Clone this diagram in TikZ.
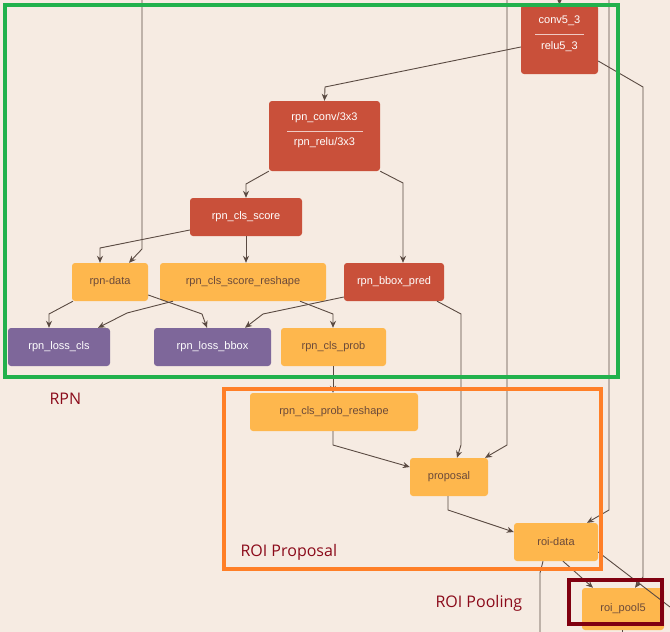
\documentclass[tikz,border=0pt]{standalone}
\usepackage{fontspec}
\setmainfont{Liberation Sans}
\newfontfamily\lblfont{Open Sans}
\usetikzlibrary{arrows.meta}
\definecolor{bg}{HTML}{F6EBE2}
\definecolor{cred}{HTML}{C9503A}
\definecolor{cyel}{HTML}{FEB74D}
\definecolor{cpur}{HTML}{7E679A}
\definecolor{ctxt}{HTML}{6B4A3A}
\definecolor{cline}{HTML}{5A4A42}
\definecolor{lblred}{HTML}{8B0A1A}
\begin{document}
\begin{tikzpicture}[x=1pt,y=-1pt,
  box/.style={rounded corners=3pt,minimum height=38pt,inner sep=0pt,font=\fontsize{11}{13}\selectfont},
  red/.style={box,fill=cred,text=white},
  yel/.style={box,fill=cyel,text=ctxt},
  pur/.style={box,fill=cpur,text=white},
  ar/.style={draw=cline,line width=0.9pt,-{Stealth[length=7pt,width=6pt]}},
  ln/.style={draw=cline,line width=0.9pt},
  lbl/.style={text=lblred,font=\lblfont\fontsize{16}{18}\selectfont,anchor=west}]
\fill[bg] (0,0) rectangle (670,632);
\useasboundingbox (0,0) rectangle (670,632);
% nodes
\node[red,minimum width=77pt,minimum height=69pt] (conv) at (559.5,39.5) {};
\node[text=white,font=\fontsize{11}{13}\selectfont] (convt) at (559.5,21) {conv5\_3};
\node[text=white,font=\fontsize{11}{13}\selectfont] (convb) at (559.5,47) {relu5\_3};
\draw[white!70!cred,line width=0.8pt] (535,34) -- (584,34);
\node[red,minimum width=111pt,minimum height=70pt] (rpnconv) at (324.5,136) {};
\node[text=white,font=\fontsize{11}{13}\selectfont] (rpnconvt) at (324.5,118) {rpn\_conv/3x3};
\node[text=white,font=\fontsize{11}{13}\selectfont] (rpnconvb) at (324.5,143) {rpn\_relu/3x3};
\draw[white!70!cred,line width=0.8pt] (287,131) -- (363,131);
\node[red,minimum width=112pt] (score) at (246,217) {rpn\_cls\_score};
\node[yel,minimum width=76pt] (rdata) at (110,282) {rpn-data};
\node[yel,minimum width=166pt] (sreshape) at (243,282) {rpn\_cls\_score\_reshape};
\node[red,minimum width=100pt] (bbox) at (394,282) {rpn\_bbox\_pred};
\node[pur,minimum width=102pt] (losscls) at (59,347) {rpn\_loss\_cls};
\node[pur,minimum width=117pt] (lossbbox) at (212.5,347) {rpn\_loss\_bbox};
\node[yel,minimum width=105pt] (prob) at (333.5,347) {rpn\_cls\_prob};
\node[yel,minimum width=168pt] (preshape) at (334,412) {rpn\_cls\_prob\_reshape};
\node[yel,minimum width=78pt] (proposal) at (449,477) {proposal};
\node[yel,minimum width=84pt] (roidata) at (556,542) {roi-data};
\node[yel,minimum width=82pt,minimum height=42pt] (pool) at (623,609) {roi\_pool5};
% free ends
\coordinate (t1) at (142,0);
\coordinate (t2) at (559.5,0);
\coordinate (t3) at (507,0);
\coordinate (t4) at (609,0);
\coordinate (b1) at (540,632);
\coordinate (b2) at (622,632);
\coordinate (r1) at (670,607);
% edges
\draw[ar] (t2) -- (conv.north);
\draw[ar] (t1) -- (142,249) -- (rdata.north -| 129,0);
\draw[ar] (conv.west |- 0,47) -- (325,87) -- (rpnconv.north);
\draw[ln] (conv.east |- 0,61) -- (643,87) -- (643,577);
\draw[ar] (643,577) -- (pool.north -| 635,0);
\draw[ar] (rpnconv.south west) -- (246,184) -- (score.north);
\draw[ar] (rpnconv.south east) -- (403,183) -- (bbox.north -| 403,0);
\draw[ar] (score.west |- 0,230) -- (100,248) -- (rdata.north -| 100,0);
\draw[ar] (score.south) -- (sreshape.north -| score.south);
\draw[ar] (rdata.south -| 73,0) -- (49,314) -- (losscls.north -| 49,0);
\draw[ar] (sreshape.south -| 173,0) -- (127,313) -- (losscls.north -| 98,0);
\draw[ar] (rdata.east |- 0,295) -- (202,314) -- (lossbbox.north -| 207,0);
\draw[ar] (bbox.west |- 0,297) -- (263,314) -- (lossbbox.north -| 245,0);
\draw[ar] (sreshape.south -| 300,0) -- (333,314) -- (prob.north -| 333,0);
\draw[ar] (prob.south -| 333,0) -- (preshape.north -| 333,0);
\draw[ar] (bbox.south -| 437,0) -- (461,314) -- (461,445) -- (proposal.north -| 457,0);
\draw[ar] (t3) -- (507,445) -- (proposal.north -| 485,0);
\draw[ar] (preshape.south -| 333,0) -- (333,445) -- (proposal.west |- 0,467);
\draw[ar] (proposal.south -| 448,0) -- (448,510) -- (roidata.west |- 0,532);
\draw[ar] (t4) -- (609,510) -- (roidata.north -| 587,0);
\draw[ar] (roidata.south -| 563,0) -- (573,570) -- (pool.north -| 593,0);
\draw[ln] (roidata.east |- 0,552) -- (r1);
\draw[ln] (roidata.south -| 543,0) -- (540,573) -- (b1);
\draw[ln] (pool.south -| 622,0) -- (b2);
% frames
\draw[draw={rgb,255:red,34;green,177;blue,76},line width=3.5pt] (5,5) rectangle (618,377);
\draw[draw={rgb,255:red,255;green,127;blue,39},line width=3.5pt] (224,389) rectangle (601,569);
\draw[draw={rgb,255:red,128;green,0;blue,16},line width=3.5pt] (569,580) rectangle (662,624);
\node[lbl] (lrpn) at (46,399) {RPN};
\node[lbl] (lroi) at (237,552) {ROI Proposal};
\node[lbl] (lpool) at (432,603) {ROI Pooling};
\end{tikzpicture}
\end{document}
